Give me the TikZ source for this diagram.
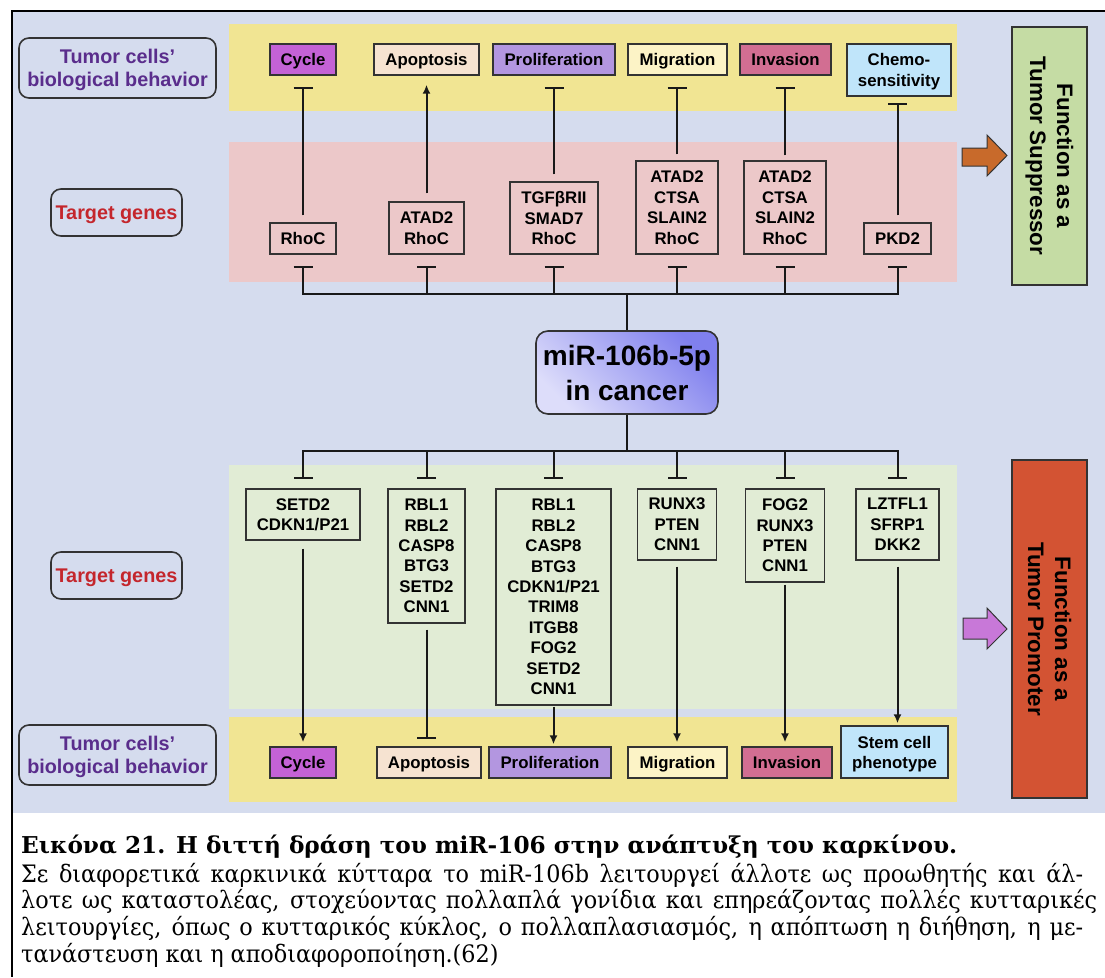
\documentclass[tikz,border=0pt]{standalone}
\usepackage{fontspec}
\setsansfont{Liberation Sans}
\newfontfamily\capfont[FakeStretch=0.93,WordSpace=0.4]{DejaVu Serif}
\newfontfamily\captitlefont{DejaVu Serif}
\usepackage{xcolor}
\usetikzlibrary{arrows.meta,positioning}

\definecolor{bgblue}{HTML}{D5DCEE}
\definecolor{bandyel}{HTML}{F1E593}
\definecolor{bandpink}{HTML}{ECC8C9}
\definecolor{bandgreen}{HTML}{E1ECD5}
\definecolor{cycfill}{HTML}{C462D6}
\definecolor{apofill}{HTML}{F6E3D1}
\definecolor{profill}{HTML}{B396E0}
\definecolor{migfill}{HTML}{FCF3C6}
\definecolor{invfill}{HTML}{D26E92}
\definecolor{chefill}{HTML}{C0E5FA}
\definecolor{supfill}{HTML}{C5DCA4}
\definecolor{promfill}{HTML}{D35333}
\definecolor{suparrow}{HTML}{C86A2B}
\definecolor{promarrow}{HTML}{C878D8}
\definecolor{labpurple}{HTML}{5A2D8C}
\definecolor{labred}{HTML}{C4262C}
\definecolor{boxline}{HTML}{333333}
\definecolor{mirlight}{HTML}{DDDDFA}
\definecolor{mirdark}{HTML}{8080EE}

\begin{document}
\begin{tikzpicture}[x=1pt,y=-1pt,
  genebox/.style={draw=boxline, line width=1.7pt, inner sep=0pt, align=center, text depth=0pt,
    font=\sffamily\bfseries\fontsize{16.8}{20.4}\selectfont},
  beh/.style={genebox, minimum height=31pt},
  lab/.style={draw=boxline, line width=1.6pt, rounded corners=10pt, align=center, inner sep=0pt,
    text depth=0pt, font=\sffamily\bfseries\fontsize{19.8}{23}\selectfont},
  func/.style={draw=boxline, line width=1.6pt, rotate=-90, align=center, inner sep=0pt,
    minimum height=75pt, font=\sffamily\bfseries\fontsize{22.4}{27}\selectfont},
  link/.style={line width=2pt, black!90},
  inh/.style={link, -{Bar[width=19pt]}},
  act/.style={link, -{Latex[length=9pt,width=8pt]}},
  blockarr/.style={draw=boxline, line width=1pt},
  captxt/.style={anchor=base west, inner sep=0pt, font=\capfont\fontsize{24}{27}\selectfont}
]
\useasboundingbox (0,0) rectangle (1105,977);
\fill[white] (0,0) rectangle (1105,977);
% background and frame
\fill[bgblue] (12,11) rectangle (1105,813);
\draw[line width=1.5pt] (1105,11) -- (12,11) -- (12,977);
% bands
\fill[bandyel] (229,24) rectangle (957,111);
\fill[bandpink] (229,142) rectangle (957,282);
\fill[bandgreen] (229,465) rectangle (957,709);
\fill[bandyel] (229,717) rectangle (957,802);

% row labels (left)
\node[lab, text=labpurple, minimum width=197pt, minimum height=60pt] (tumtop) at (117.5,68) {Tumor cells’\\biological behavior};
\node[lab, text=labred, minimum width=131pt, minimum height=47pt] (tgtop) at (116.5,212.5) {Target genes};
\node[lab, text=labred, minimum width=131pt, minimum height=47pt] (tgbot) at (116.5,575.5) {Target genes};
\node[lab, text=labpurple, minimum width=197pt, minimum height=60pt] (tumbot) at (117.5,755) {Tumor cells’\\biological behavior};

% behaviour boxes (top)
\node[beh, fill=cycfill, minimum width=66pt, anchor=north] (cyc1) at (303,43) {Cycle};
\node[beh, fill=apofill, minimum width=105pt, anchor=north] (apo1) at (426.5,43) {Apoptosis};
\node[beh, fill=profill, minimum width=122pt, anchor=north] (pro1) at (554,43) {Proliferation};
\node[beh, fill=migfill, minimum width=99pt, anchor=north] (mig1) at (677.5,43) {Migration};
\node[beh, fill=invfill, minimum width=91pt, anchor=north] (inv1) at (785.5,43) {Invasion};
\node[beh, fill=chefill, minimum width=104pt, minimum height=52pt, anchor=north] (che1) at (899,43) {Chemo-\\sensitivity};

% target genes (top)
\node[genebox, minimum width=66pt, minimum height=31pt, anchor=south] (tg1) at (303,255) {RhoC};
\node[genebox, minimum width=75pt, minimum height=52pt, anchor=south] (tg2) at (426.5,255) {ATAD2\\RhoC};
\node[genebox, minimum width=88pt, minimum height=72pt, anchor=south] (tg3) at (554,255) {TGFβRII\\SMAD7\\RhoC};
\node[genebox, minimum width=82pt, minimum height=93pt, anchor=south] (tg4) at (677,255) {ATAD2\\CTSA\\SLAIN2\\RhoC};
\node[genebox, minimum width=82pt, minimum height=93pt, anchor=south] (tg5) at (785,255) {ATAD2\\CTSA\\SLAIN2\\RhoC};
\node[genebox, minimum width=67pt, minimum height=31pt, anchor=south] (tg6) at (897.5,255) {PKD2};

% centre
\node[draw=boxline, line width=1.6pt, rounded corners=12pt, bottom color=mirlight, top color=mirdark,
  shading angle=-45, minimum width=182pt, minimum height=83pt, align=center, inner sep=0pt,
  font=\sffamily\bfseries\fontsize{28}{35}\selectfont] (mir) at (627,372.5) {miR-106b-5p\\in cancer};

% target genes (bottom)
\node[genebox, minimum width=114pt, minimum height=51pt, anchor=north] (bg1) at (303,488) {SETD2\\CDKN1/P21};
\node[genebox, minimum width=77pt, minimum height=134pt, anchor=north] (bg2) at (426.5,488) {RBL1\\RBL2\\CASP8\\BTG3\\SETD2\\CNN1};
\node[genebox, minimum width=115pt, minimum height=216pt, anchor=north] (bg3) at (553.5,488) {RBL1\\RBL2\\CASP8\\BTG3\\CDKN1/P21\\TRIM8\\ITGB8\\FOG2\\SETD2\\CNN1};
\node[genebox, minimum width=79pt, minimum height=71pt, anchor=north] (bg4) at (677,488) {RUNX3\\PTEN\\CNN1};
\node[genebox, minimum width=79pt, minimum height=93pt, anchor=north] (bg5) at (785,488) {FOG2\\RUNX3\\PTEN\\CNN1};
\node[genebox, minimum width=83pt, minimum height=71pt, anchor=north] (bg6) at (897.5,488) {LZTFL1\\SFRP1\\DKK2};

% behaviour boxes (bottom)
\node[beh, fill=cycfill, minimum width=66pt, anchor=south] (cyc2) at (303,779) {Cycle};
\node[beh, fill=apofill, minimum width=104pt, anchor=south] (apo2) at (429,779) {Apoptosis};
\node[beh, fill=profill, minimum width=122pt, anchor=south] (pro2) at (550,779) {Proliferation};
\node[beh, fill=migfill, minimum width=99pt, anchor=south] (mig2) at (677.5,779) {Migration};
\node[beh, fill=invfill, minimum width=90pt, anchor=south] (inv2) at (787,779) {Invasion};
\node[beh, fill=chefill, minimum width=107pt, minimum height=52pt, anchor=south] (stem2) at (894.5,779) {Stem cell\\phenotype};

% function boxes
\node[func, fill=supfill, minimum width=258pt] (supp) at (1049.5,156) {Function as a\\Tumor Suppressor};
\node[func, fill=promfill, minimum width=338pt] (prom) at (1049.5,629) {Function as a\\Tumor Promoter};
\draw[blockarr, fill=suparrow] (962,148) -- (987,148) -- (987,135) -- (1007,155.5) -- (987,176) -- (987,166) -- (962,166) -- cycle;
\draw[blockarr, fill=promarrow] (963,618) -- (987,618) -- (987,608) -- (1007,629) -- (987,649) -- (987,639) -- (963,639) -- cycle;

% upper tree
\coordinate (uptree) at (627,294);
\draw[link] (mir.north) -- (uptree);
\draw[link, {Bar[width=19pt]}-{Bar[width=19pt]}, shorten <=11pt, shorten >=11pt]
  (tg1.south) -- (tg1.south |- uptree) -- (tg6.south |- uptree) -- (tg6.south);
\foreach \g in {tg2,tg3,tg4,tg5}
  \draw[inh, shorten >=11pt] (\g.south |- uptree) -- (\g.south);
% genes -> behaviour (top)
\draw[inh, shorten <=7pt, shorten >=11pt] (tg1.north) -- (tg1.north |- cyc1.south);
\draw[act, shorten <=8pt, shorten >=9pt] (tg2.north) -- (tg2.north |- apo1.south);
\draw[inh, shorten <=7pt, shorten >=11pt] (tg3.north) -- (tg3.north |- pro1.south);
\draw[inh, shorten <=6pt, shorten >=11pt] (tg4.north) -- (tg4.north |- mig1.south);
\draw[inh, shorten <=5pt, shorten >=11pt] (tg5.north) -- (tg5.north |- inv1.south);
\draw[inh, shorten <=7pt, shorten >=6pt] (tg6.north) -- (tg6.north |- che1.south);

% lower tree
\coordinate (lotree) at (627,451);
\draw[link] (mir.south) -- (lotree);
\draw[link, {Bar[width=19pt]}-{Bar[width=19pt]}, shorten <=9pt, shorten >=9pt]
  (bg1.north) -- (bg1.north |- lotree) -- (bg6.north |- lotree) -- (bg6.north);
\foreach \g in {bg2,bg3,bg4,bg5}
  \draw[inh, shorten >=9pt] (\g.north |- lotree) -- (\g.north);
% genes -> behaviour (bottom)
\draw[act, shorten <=8pt, shorten >=4pt] (bg1.south) -- (bg1.south |- cyc2.north);
\draw[inh, shorten <=6pt, shorten >=7pt] (bg2.south) -- (bg2.south |- apo2.north);
\draw[act, shorten <=1pt, shorten >=2pt] (bg3.south) -- (bg3.south |- pro2.north);
\draw[act, shorten <=6pt, shorten >=4pt] (bg4.south) -- (bg4.south |- mig2.north);
\draw[act, shorten <=2pt, shorten >=4pt] (bg5.south) -- (bg5.south |- inv2.north);
\draw[act, shorten <=6pt, shorten >=2pt] (bg6.south) -- (bg6.south |- stem2.north);

% caption
\node[captxt, font=\captitlefont\bfseries\fontsize{23.2}{27}\selectfont] (cap1) at (21,853) {Εικόνα 21. Η διττή δράση του miR-106 στην ανάπτυξη του καρκίνου.};
\node[captxt] (cap2) at (21,882) {\makebox[1062pt][s]{Σε διαφορετικά καρκινικά κύτταρα το miR-106b λειτουργεί άλλοτε ως προωθητής και άλ-}};
\node[captxt] (cap3) at (21,908.5) {\makebox[1076pt][s]{λοτε ως καταστολέας, στοχεύοντας πολλαπλά γονίδια και επηρεάζοντας πολλές κυτταρικές}};
\node[captxt] (cap4) at (21,935) {\makebox[1062pt][s]{λειτουργίες, όπως ο κυτταρικός κύκλος, ο πολλαπλασιασμός, η απόπτωση η διήθηση, η με-}};
\node[captxt] (cap5) at (21,962) {\spaceskip=7pt\relax τανάστευση και η αποδιαφοροποίηση.(62)};
\end{tikzpicture}
\end{document}
